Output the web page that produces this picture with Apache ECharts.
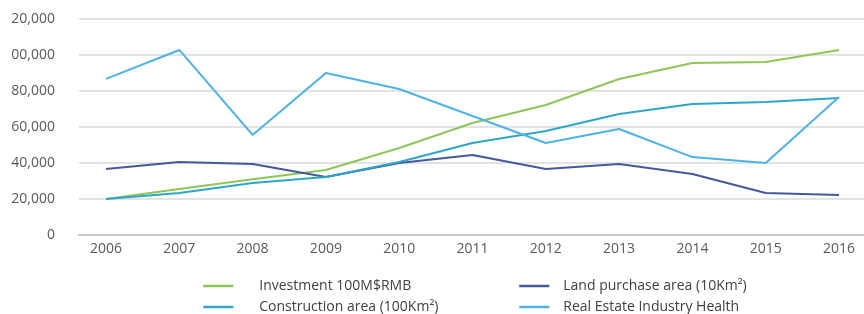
<!DOCTYPE html>
<html lang="en">

<head>
    <meta charset="UTF-8">
    <title>Real estate indicators 2006-2016</title>
    <style>
        html, body { margin: 0; padding: 0; background: #fff; }
        #root { width: 864px; height: 314px; }
    </style>
</head>

<body>
    <div id="root"></div>
    <script src="https://cdn.jsdelivr.net/npm/echarts@6/dist/echarts.min.js"></script>
    <script>
        // data
        var years = [2006, 2007, 2008, 2009, 2010, 2011, 2012, 2013, 2014, 2015, 2016];
        var investment = [20000, 25500, 31000, 36100, 48300, 62200, 72200, 86700, 95500, 96100, 102800];
        var landPurchase = [36700, 40500, 39400, 32200, 40000, 44400, 36700, 39400, 33900, 23300, 22200];
        var construction = [20000, 23300, 28900, 32200, 40600, 51100, 57800, 67200, 72800, 73900, 76100];
        var realEstateHealth = [86700, 102800, 55600, 90000, 81100, 66100, 51100, 58900, 43300, 40000, 76700];
        // y tick labels as printed (left digit cut off in the source)
        var yTickLabels = ['0', '20,000', '40,000', '60,000', '80,000', '00,000', '20,000'];
        var seriesNames = ['Investment 100M$RMB', 'Land purchase area (10Km²)', 'Construction area (100Km²)', 'Real Estate Industry Health'];
        var colors = ['#8dc657', '#44589c', '#2ea6c9', '#4cb3e8'];

        function pairs(vals) {
            return years.map(function (y, i) { return [y, vals[i]]; });
        }

        var font = '"Open Sans", "Noto Sans", sans-serif';
        var allValues = [investment, landPurchase, construction, realEstateHealth];

        function legendCol(names, left, textGap) {
            return {
                data: names,
                orient: 'vertical',
                left: left,
                top: 279,
                padding: 0,
                itemWidth: 30,
                itemHeight: 14,
                itemGap: 7,
                itemStyle: { opacity: 0 },
                lineStyle: { width: 2.5 },
                textStyle: { fontSize: 14, lineHeight: 14, color: '#404040', fontFamily: font, padding: [0, 0, 0, textGap] }
            };
        }

        var option = {
            animation: false,
            color: colors,
            grid: { left: 79, right: 0, top: 19, bottom: 79 },
            xAxis: {
                type: 'value',
                min: 2005.632,
                max: 2016.341,
                axisLine: { lineStyle: { color: '#c8c8c8', width: 2 } },
                axisTick: { show: false },
                splitLine: { show: false },
                axisLabel: {
                    customValues: years,
                    margin: 7,
                    color: '#5a5a5a',
                    fontSize: 14,
                    fontFamily: font,
                    formatter: function (v) { return String(v); }
                }
            },
            yAxis: {
                type: 'value',
                min: 0,
                max: 120000,
                interval: 20000,
                axisLine: { show: false },
                axisTick: { show: false },
                splitLine: { lineStyle: { color: '#dadada', width: 1.5 } },
                axisLabel: {
                    margin: 24,
                    color: '#5a5a5a',
                    fontSize: 14,
                    fontFamily: font,
                    formatter: function (v) { return yTickLabels[Math.round(v / 20000)]; }
                }
            },
            legend: [
                legendCol([seriesNames[0], seriesNames[2]], 202, 21),
                legendCol([seriesNames[1], seriesNames[3]], 518, 9)
            ],
            series: seriesNames.map(function (name, i) {
                return {
                    name: name,
                    type: 'line',
                    data: pairs(allValues[i]),
                    symbol: 'none',
                    lineStyle: { width: 2, color: colors[i] },
                    itemStyle: { color: colors[i] }
                };
            })
        };

        var chart = echarts.init(document.getElementById('root'));
        chart.setOption(option);
    </script>
</body>

</html>
